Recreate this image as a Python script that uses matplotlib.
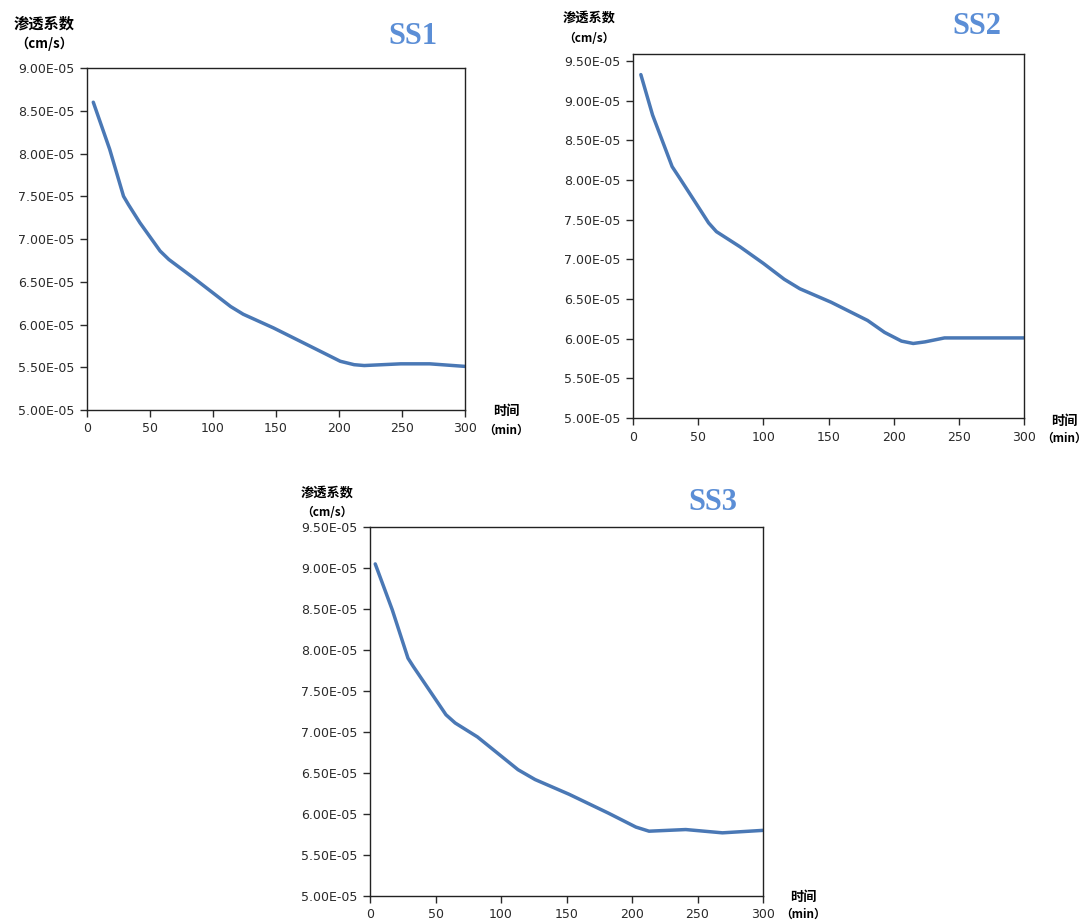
"""Permeability coefficient over time for samples SS1, SS2, SS3."""

import matplotlib

matplotlib.use("Agg")
import matplotlib.pyplot as plt
from matplotlib.ticker import FuncFormatter, MultipleLocator

plt.rcParams["font.family"] = ["DejaVu Sans", "Noto Sans CJK SC"]

# time (min) and permeability (cm/s)
ss1_time = [5, 18, 29, 33, 42, 58, 65, 85, 114, 124, 148, 182, 201, 212, 220, 249, 272, 300]
ss1_k = [8.60e-5, 8.05e-5, 7.50e-5, 7.40e-5, 7.19e-5, 6.86e-5, 6.76e-5, 6.54e-5, 6.21e-5,
         6.12e-5, 5.96e-5, 5.71e-5, 5.57e-5, 5.53e-5, 5.52e-5, 5.54e-5, 5.54e-5, 5.51e-5]

ss2_time = [6, 15, 30, 36, 49, 58, 64, 82, 100, 116, 128, 152, 180, 193, 206, 215, 224, 239, 265, 300]
ss2_k = [9.33e-5, 8.82e-5, 8.17e-5, 8.02e-5, 7.69e-5, 7.46e-5, 7.35e-5, 7.16e-5, 6.95e-5, 6.75e-5,
         6.63e-5, 6.46e-5, 6.23e-5, 6.08e-5, 5.97e-5, 5.94e-5, 5.96e-5, 6.01e-5, 6.01e-5, 6.01e-5]

ss3_time = [4, 17, 29, 33, 47, 58, 65, 82, 113, 126, 152, 182, 203, 213, 241, 269, 300]
ss3_k = [9.05e-5, 8.49e-5, 7.90e-5, 7.80e-5, 7.47e-5, 7.21e-5, 7.11e-5, 6.94e-5, 6.54e-5,
         6.42e-5, 6.24e-5, 6.01e-5, 5.84e-5, 5.79e-5, 5.81e-5, 5.77e-5, 5.80e-5]

titles = ["SS1", "SS2", "SS3"]
series = [(ss1_time, ss1_k), (ss2_time, ss2_k), (ss3_time, ss3_k)]
y_limits = [(5.0e-5, 9.0e-5), (5.0e-5, 9.59e-5), (5.0e-5, 9.5e-5)]
y_tick_max = [9.0e-5, 9.5e-5, 9.5e-5]

# axes rectangles in figure fractions, label anchors in pixels
rects = [
    [0.0801, 0.5558, 0.3481, 0.3705],
    [0.5829, 0.5471, 0.3600, 0.3944],
    [0.3407, 0.0293, 0.3619, 0.3997],
]
ylabel_pos = [(44, 24, 44, 11, 9.5), (589, 18, 38, 9.5, 8.5), (327, 493, 512, 9.5, 8.5)]
xlabel_pos = [(506, 411, 430, 9.5, 8.5), (1064, 421, 438, 9.5, 8.5), (803, 897, 914, 9.5, 8.5)]
title_pos = [(413, 37), (977, 27), (713, 502)]

line_color = "#4A78B5"
title_color = "#5B8ED6"
W, H = 1086, 923

fig = plt.figure(figsize=(W / 100, H / 100), dpi=100)

sci = FuncFormatter(lambda v, _: f"{v * 1e5:.2f}E-05")

for i, ax_rect in enumerate(rects):
    t, k = series[i]
    ax = fig.add_axes(ax_rect)
    ax.plot(t, k, color=line_color, lw=2.5, solid_joinstyle="round", solid_capstyle="round")
    ax.set_xlim(0, 300)
    ax.set_ylim(*y_limits[i])
    ax.xaxis.set_major_locator(MultipleLocator(50))
    yticks = [5.0e-5 + 0.5e-5 * j for j in range(int(round((y_tick_max[i] - 5.0e-5) / 0.5e-5)) + 1)]
    ax.set_yticks(yticks)
    ax.yaxis.set_major_formatter(sci)
    ax.tick_params(direction="out", length=5, width=1, labelsize=9,
                   colors="#2a2a2a", pad=4)
    for spine in ax.spines.values():
        spine.set_linewidth(1.0)
        spine.set_color("#222222")

    x, y1, y2, s1, s2 = ylabel_pos[i]
    fig.text(x / W, 1 - y1 / H, "渗透系数", family="Noto Sans CJK SC",
             weight="bold", fontsize=s1, ha="center", va="center")
    fig.text(x / W, 1 - y2 / H, "（cm/s）", family="Noto Sans CJK SC",
             weight="bold", fontsize=s2, ha="center", va="center")
    x, y1, y2, s1, s2 = xlabel_pos[i]
    fig.text(x / W, 1 - y1 / H, "时间", family="Noto Sans CJK SC",
             weight="bold", fontsize=s1, ha="center", va="center")
    fig.text(x / W, 1 - y2 / H, "（min）", family="Noto Sans CJK SC",
             weight="bold", fontsize=s2, ha="center", va="center")
    tx, ty = title_pos[i]
    fig.text(tx / W, 1 - ty / H, titles[i], family="Liberation Serif",
             weight="bold", fontsize=22, color=title_color, ha="center", va="center")

fig.savefig("out.png", dpi=100)
